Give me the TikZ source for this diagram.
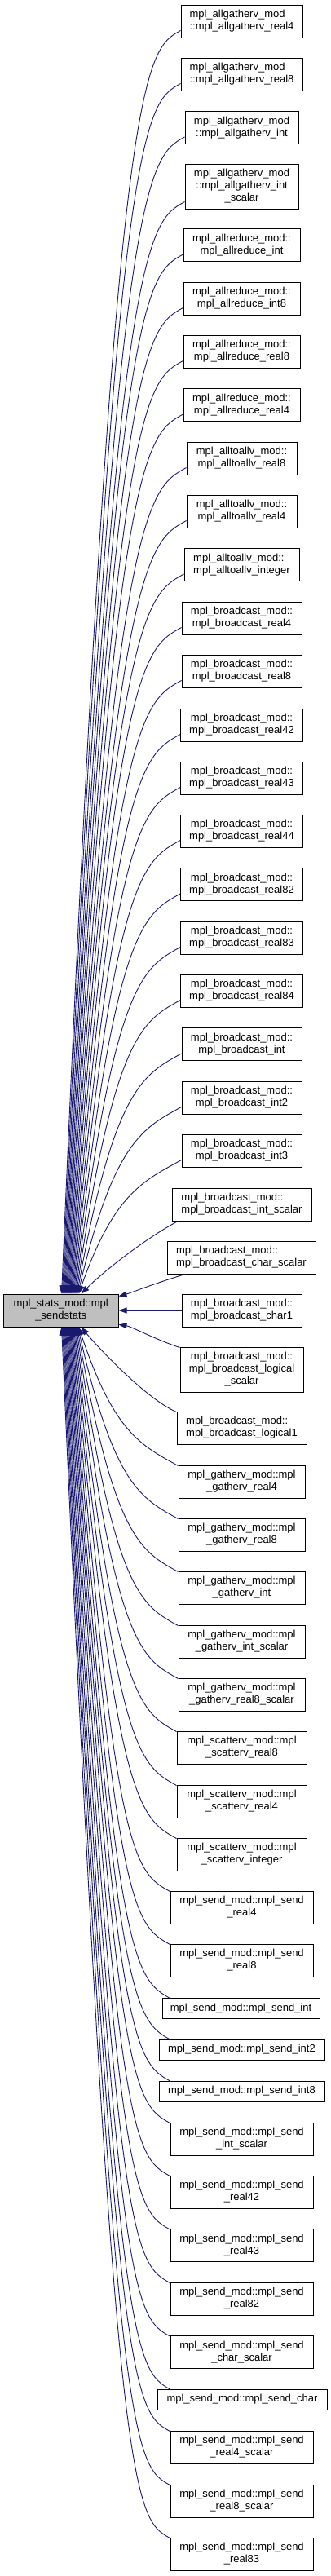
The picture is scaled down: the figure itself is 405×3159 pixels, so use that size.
\documentclass[tikz,border=0pt]{standalone}
\usepackage{fontspec}
\newfontfamily\doxfont{Liberation Sans}
\usetikzlibrary{calc,arrows.meta}
\definecolor{edgeblue}{HTML}{191970}
\definecolor{rootgray}{HTML}{BFBFBF}
\begin{document}
\begin{tikzpicture}[x=1pt,y=-1pt,
  box/.style={draw=black, line width=0.9pt, fill=white, font={\doxfont\fontsize{13}{15}\selectfont}, inner xsep=1pt, inner ysep=0pt, align=center, minimum height=40pt},
  lbox/.style={box, align=left},
  one/.style={minimum height=25pt},
  three/.style={minimum height=55pt},
  edge/.style={draw=edgeblue, line width=0.9pt, -{Triangle[length=10pt,width=7pt]}},
]
\useasboundingbox (0,0) rectangle (405,3159);
\node[box, fill=rootgray, minimum width=140.7pt] (main) at (74.7,1607) {mpl\_stats\_mod::mpl\\\_sendstats};

\node[lbox, minimum width=149pt] (a1) at (296.5,26) {mpl\_allgatherv\_mod\\::mpl\_allgatherv\_real4};
\node[lbox, minimum width=149pt] (a2) at (296.5,91) {mpl\_allgatherv\_mod\\::mpl\_allgatherv\_real8};
\node[box, minimum width=139pt] (a3) at (296.5,156.5) {mpl\_allgatherv\_mod\\::mpl\_allgatherv\_int};
\node[box, three, minimum width=139pt] (a4) at (296.5,228.5) {mpl\_allgatherv\_mod\\::mpl\_allgatherv\_int\\\_scalar};
\node[box, minimum width=143pt] (a5) at (296.5,300.5) {mpl\_allreduce\_mod::\\mpl\_allreduce\_int};
\node[box, minimum width=143pt] (a6) at (296.5,366) {mpl\_allreduce\_mod::\\mpl\_allreduce\_int8};
\node[box, minimum width=143pt] (a7) at (296.5,431) {mpl\_allreduce\_mod::\\mpl\_allreduce\_real8};
\node[box, minimum width=143pt] (a8) at (296.5,496.5) {mpl\_allreduce\_mod::\\mpl\_allreduce\_real4};
\node[box, minimum width=135pt] (a9) at (296.5,562) {mpl\_alltoallv\_mod::\\mpl\_alltoallv\_real8};
\node[box, minimum width=135pt] (a10) at (296.5,627) {mpl\_alltoallv\_mod::\\mpl\_alltoallv\_real4};
\node[lbox, minimum width=141pt] (a11) at (296.5,692.5) {mpl\_alltoallv\_mod::\\mpl\_alltoallv\_integer};
\node[box, minimum width=147pt] (a12) at (296.5,758) {mpl\_broadcast\_mod::\\mpl\_broadcast\_real4};
\node[box, minimum width=147pt] (a13) at (296.5,823) {mpl\_broadcast\_mod::\\mpl\_broadcast\_real8};
\node[box, minimum width=149.6pt] (a14) at (296.5,889) {mpl\_broadcast\_mod::\\mpl\_broadcast\_real42};
\node[box, minimum width=149.6pt] (a15) at (296.5,954) {mpl\_broadcast\_mod::\\mpl\_broadcast\_real43};
\node[box, minimum width=149.6pt] (a16) at (296.5,1019) {mpl\_broadcast\_mod::\\mpl\_broadcast\_real44};
\node[box, minimum width=149.6pt] (a17) at (296.5,1084.5) {mpl\_broadcast\_mod::\\mpl\_broadcast\_real82};
\node[box, minimum width=149.6pt] (a18) at (296.5,1150) {mpl\_broadcast\_mod::\\mpl\_broadcast\_real83};
\node[box, minimum width=149.6pt] (a19) at (296.5,1215) {mpl\_broadcast\_mod::\\mpl\_broadcast\_real84};
\node[box, minimum width=147pt] (a20) at (296.5,1280.5) {mpl\_broadcast\_mod::\\mpl\_broadcast\_int};
\node[box, minimum width=147pt] (a21) at (296.5,1346) {mpl\_broadcast\_mod::\\mpl\_broadcast\_int2};
\node[box, minimum width=147pt] (a22) at (296.5,1411) {mpl\_broadcast\_mod::\\mpl\_broadcast\_int3};
\node[lbox, minimum width=171pt] (a23) at (296.5,1477) {mpl\_broadcast\_mod::\\mpl\_broadcast\_int\_scalar};
\node[lbox, minimum width=182pt] (a24) at (296,1542) {mpl\_broadcast\_mod::\\mpl\_broadcast\_char\_scalar};
\node[box, minimum width=147pt] (a25) at (296.5,1607) {mpl\_broadcast\_mod::\\mpl\_broadcast\_char1};
\node[box, three, minimum width=151pt] (a26) at (296.5,1679.5) {mpl\_broadcast\_mod::\\mpl\_broadcast\_logical\\\_scalar};
\node[lbox, minimum width=159pt] (a27) at (296.5,1751) {mpl\_broadcast\_mod::\\mpl\_broadcast\_logical1};
\node[box, minimum width=155pt] (a28) at (296.5,1817) {mpl\_gatherv\_mod::mpl\\\_gatherv\_real4};
\node[box, minimum width=155pt] (a29) at (296.5,1882) {mpl\_gatherv\_mod::mpl\\\_gatherv\_real8};
\node[box, minimum width=155pt] (a30) at (296.5,1947) {mpl\_gatherv\_mod::mpl\\\_gatherv\_int};
\node[box, minimum width=155pt] (a31) at (296.5,2013) {mpl\_gatherv\_mod::mpl\\\_gatherv\_int\_scalar};
\node[box, minimum width=155pt] (a32) at (296.5,2078) {mpl\_gatherv\_mod::mpl\\\_gatherv\_real8\_scalar};
\node[box, minimum width=159pt] (a33) at (296.5,2143) {mpl\_scatterv\_mod::mpl\\\_scatterv\_real8};
\node[box, minimum width=159pt] (a34) at (296.5,2209) {mpl\_scatterv\_mod::mpl\\\_scatterv\_real4};
\node[box, minimum width=159pt] (a35) at (296.5,2274) {mpl\_scatterv\_mod::mpl\\\_scatterv\_integer};
\node[box, minimum width=175pt] (a36) at (296.5,2339) {mpl\_send\_mod::mpl\_send\\\_real4};
\node[box, minimum width=175pt] (a37) at (296.5,2404) {mpl\_send\_mod::mpl\_send\\\_real8};
\node[box, one, minimum width=193pt] (a38) at (295.5,2463) {mpl\_send\_mod::mpl\_send\_int};
\node[box, one, minimum width=203pt] (a39) at (296.5,2513.5) {mpl\_send\_mod::mpl\_send\_int2};
\node[box, one, minimum width=203pt] (a40) at (296.5,2564.5) {mpl\_send\_mod::mpl\_send\_int8};
\node[box, minimum width=175pt] (a41) at (296.5,2623) {mpl\_send\_mod::mpl\_send\\\_int\_scalar};
\node[box, minimum width=175pt] (a42) at (296.5,2688) {mpl\_send\_mod::mpl\_send\\\_real42};
\node[box, minimum width=175pt] (a43) at (296.5,2753.5) {mpl\_send\_mod::mpl\_send\\\_real43};
\node[box, minimum width=175pt] (a44) at (296.5,2819) {mpl\_send\_mod::mpl\_send\\\_real82};
\node[box, minimum width=175pt] (a45) at (296.5,2884.5) {mpl\_send\_mod::mpl\_send\\\_char\_scalar};
\node[box, one, minimum width=208pt] (a46) at (297,2942.5) {mpl\_send\_mod::mpl\_send\_char};
\node[box, minimum width=175pt] (a47) at (296.5,3001) {mpl\_send\_mod::mpl\_send\\\_real4\_scalar};
\node[box, minimum width=175pt] (a48) at (296.5,3067) {mpl\_send\_mod::mpl\_send\\\_real8\_scalar};
\node[box, minimum width=175pt] (a49) at (296.5,3132) {mpl\_send\_mod::mpl\_send\\\_real83};

\coordinate (bendx) at (140,0);
% callers above the root
\foreach \nm/\dd in {a1/71.7,a2/72.7,a3/73.7,a4/74.7,a5/75.7,a6/76.7,a7/77.7,a8/78.7,a9/79.7,a10/80.7,a11/81.7,a12/82.7,a13/83.7,a14/84.7,a15/85.7,a16/86.7,a17/87.7,a18/88.7,a19/89.7,a20/90.7,a21/91.7,a22/92.7} {
  \path ($(\nm.south west)+(0,-9)$) coordinate (s);
  \draw[edge] (s) .. controls +(-45,25) and ($(s -| bendx)+(0,40)$) .. ($(main.north west)+(\dd,0)$);
}
\draw[edge] ($(a23.south west)+(8,0)$) .. controls +(-35,18) and +(30,-30) .. ($(main.north west)+(95.7,0)$);
\draw[edge] ($(a24.south west)+(23,0)$) .. controls +(-40,12) and +(15,-4) .. ($(main.north east)+(0,3)$);
\draw[edge] (a25.west) -- (main.east);
\draw[edge] ($(a26.north west)+(0,1)$) .. controls +(-30,-10) and +(15,2) .. ($(main.south east)+(0,-3)$);
\draw[edge] ($(a27.north west)+(0,1)$) .. controls +(-35,-15) and +(25,30) .. ($(main.south west)+(95.7,0)$);
% callers below the root
\foreach \nm/\sx/\dd in {a28/0/92.7,a29/0/91.7,a30/0/90.7,a31/0/89.7,a32/0/88.7,a33/0/87.7,a34/0/86.7,a35/0/85.7,a36/0/84.7,a37/0/83.7,a38/11/82.7,a39/15/81.7,a40/15/80.7,a41/0/79.7,a42/0/78.7,a43/0/77.7,a44/0/76.7,a45/0/75.7,a46/17/74.7,a47/0/73.7,a48/0/72.7,a49/0/71.7} {
  \path ($(\nm.north west)+(\sx,1)$) coordinate (s);
  \draw[edge] (s) .. controls +(-45,-25) and ($(s -| bendx)+(0,-40)$) .. ($(main.south west)+(\dd,0)$);
}
\end{tikzpicture}
\end{document}
